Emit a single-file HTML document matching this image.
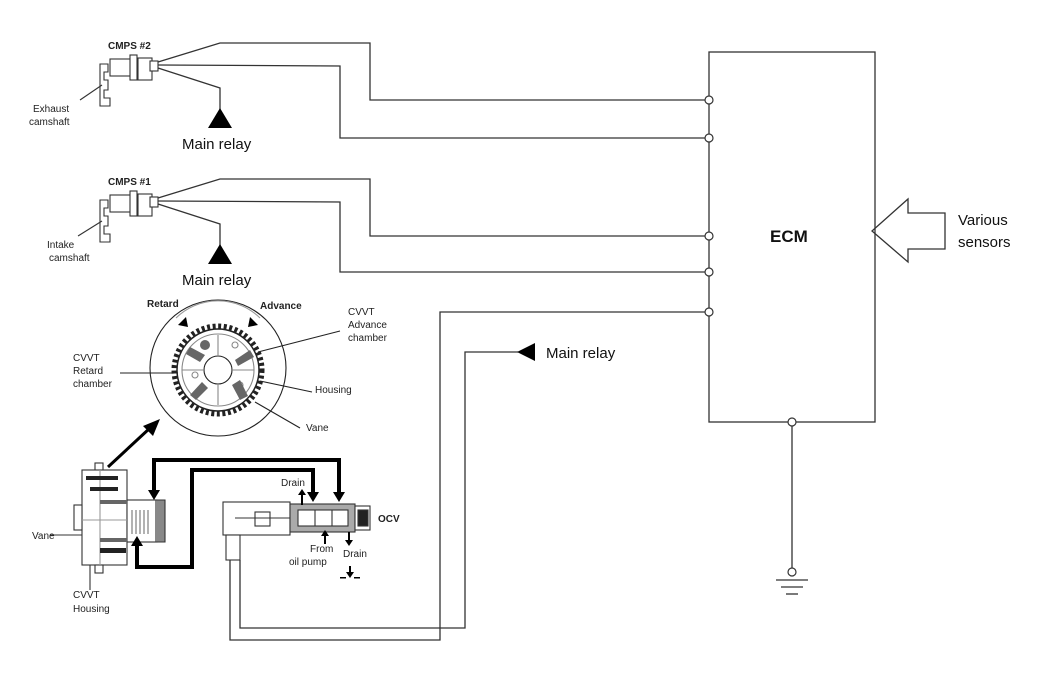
<!DOCTYPE html>
<html><head><meta charset="utf-8"><style>
html,body{margin:0;padding:0;background:#fff;}
svg{display:block;font-family:"Liberation Sans",Arial,sans-serif;}
</style></head><body>
<svg width="1050" height="685" viewBox="0 0 1050 685" xmlns="http://www.w3.org/2000/svg">
<g fill="none" stroke="#333" stroke-width="1.3">
<polyline points="158,62 220,43 370,43 370,100 705,100"/>
<polyline points="158,65 340,66 340,138 705,138"/>
<polyline points="158,68 220,88 220,112"/>
<polyline points="158,198 220,179 370,179 370,236 705,236"/>
<polyline points="158,201 340,202 340,272 705,272"/>
<polyline points="158,204 220,224 220,248"/>
<polyline points="705,312 440,312 440,640 230,640 230,560"/>
<polyline points="518,352 465,352 465,628 240,628 240,560"/>
<rect x="709" y="52" width="166" height="370"/>
<line x1="792" y1="426" x2="792" y2="568"/>
<line x1="776" y1="580" x2="808" y2="580"/>
<line x1="781" y1="587" x2="803" y2="587"/>
<line x1="786" y1="594" x2="798" y2="594"/>
<polygon points="872,231 908,199 908,213 945,213 945,249 908,249 908,262"/>
</g>
<g fill="#fff" stroke="#333" stroke-width="1.2">
<circle cx="709" cy="100" r="4"/><circle cx="709" cy="138" r="4"/>
<circle cx="709" cy="236" r="4"/><circle cx="709" cy="272" r="4"/>
<circle cx="709" cy="312" r="4"/><circle cx="792" cy="422" r="4"/>
<circle cx="792" cy="572" r="4"/>
</g>
<g fill="#000">
<polygon points="220,108 208,128 232,128"/>
<polygon points="220,244 208,264 232,264"/>
<polygon points="517,352 535,343 535,361"/>
</g>
<g fill="#fff" stroke="#333" stroke-width="1.1">
<path d="M100,64 h8 v8 h-4 v8 h4 v10 h-4 v8 h6 v8 h-10 z"/>
<rect x="110" y="59" width="25" height="17"/>
<rect x="130" y="55" width="7" height="25"/>
<rect x="138" y="58" width="14" height="22"/>
<rect x="150" y="61" width="8" height="10"/>
<path d="M100,200 h8 v8 h-4 v8 h4 v10 h-4 v8 h6 v8 h-10 z"/>
<rect x="110" y="195" width="25" height="17"/>
<rect x="130" y="191" width="7" height="25"/>
<rect x="138" y="194" width="14" height="22"/>
<rect x="150" y="197" width="8" height="10"/>
<line x1="80" y1="100" x2="102" y2="85"/>
<line x1="78" y1="236" x2="102" y2="221"/>
</g>
<g fill="none" stroke="#222" stroke-width="1.1">
<circle cx="218" cy="368" r="68"/>
<path d="M176,318 A60,60 0 0 1 260,318" stroke="#999"/>
<circle cx="218" cy="370" r="44" stroke-dasharray="3,2.6" stroke-width="5"/>
<circle cx="218" cy="370" r="41" stroke-width="1.5"/>
<circle cx="218" cy="370" r="36" stroke="#888"/>
<circle cx="218" cy="370" r="14"/>
<line x1="204" y1="370" x2="182" y2="370" stroke="#888"/>
<line x1="232" y1="370" x2="254" y2="370" stroke="#888"/>
<line x1="218" y1="384" x2="218" y2="405" stroke="#888"/>
<line x1="218" y1="356" x2="218" y2="335" stroke="#888"/>
<circle cx="195" cy="375" r="3" stroke="#888"/>
<circle cx="240" cy="385" r="3" stroke="#888"/>
<circle cx="235" cy="345" r="3" stroke="#888"/>
<line x1="120" y1="373" x2="178" y2="373"/>
<line x1="258" y1="352" x2="340" y2="331"/>
<line x1="260" y1="381" x2="312" y2="392"/>
<line x1="255" y1="402" x2="300" y2="428"/>
</g>
<g fill="#666">
<polygon points="190,347 205,355 200,362 186,354"/>
<polygon points="235,360 250,350 254,357 238,366"/>
<polygon points="190,395 202,382 208,388 196,400"/>
<polygon points="232,385 240,380 248,396 240,400"/>
<circle cx="205" cy="345" r="5"/>
</g>
<g fill="#000">
<polygon points="178,325 186,317 188,327"/>
<polygon points="258,325 250,317 248,327"/>
</g>
<line x1="108" y1="467" x2="150" y2="428" stroke="#000" stroke-width="3"/>
<polygon points="160,419 143,426 153,436" fill="#000"/>
<g fill="#fff" stroke="#333" stroke-width="1.1">
<rect x="95" y="463" width="8" height="8"/>
<rect x="82" y="470" width="45" height="95"/>
<rect x="74" y="505" width="8" height="25"/>
<rect x="95" y="565" width="8" height="8"/>
<rect x="127" y="500" width="30" height="42"/>
<path d="M155,500 h10 v42 h-10" fill="#888"/>
<line x1="90" y1="565" x2="90" y2="590"/>
<line x1="50" y1="535" x2="82" y2="535"/>
<line x1="100" y1="470" x2="100" y2="565" stroke="#999"/>
<line x1="82" y1="520" x2="127" y2="520" stroke="#999"/>
</g>
<g stroke="#666" stroke-width="1">
<line x1="132" y1="510" x2="132" y2="534"/><line x1="136" y1="510" x2="136" y2="534"/>
<line x1="140" y1="510" x2="140" y2="534"/><line x1="144" y1="510" x2="144" y2="534"/>
<line x1="148" y1="510" x2="148" y2="534"/>
</g>
<g fill="#222">
<rect x="86" y="476" width="32" height="4"/>
<rect x="90" y="487" width="28" height="4"/>
<rect x="100" y="548" width="26" height="5"/>
<rect x="100" y="500" width="27" height="4" fill="#666"/>
<rect x="100" y="538" width="27" height="4" fill="#666"/>
</g>
<g fill="#fff" stroke="#333" stroke-width="1.1">
<rect x="223" y="502" width="67" height="33"/>
<rect x="226" y="535" width="14" height="25"/>
<rect x="255" y="512" width="15" height="14"/>
<line x1="235" y1="518" x2="300" y2="518"/>
<rect x="290" y="504" width="65" height="28" fill="#aaa"/>
<rect x="298" y="510" width="50" height="16" fill="#fff"/>
<line x1="315" y1="510" x2="315" y2="526"/><line x1="332" y1="510" x2="332" y2="526"/>
<rect x="355" y="506" width="15" height="24" fill="#fff"/>
<rect x="358" y="510" width="10" height="16" fill="#222"/>
</g>
<g fill="none" stroke="#000" stroke-width="4">
<polyline points="154,492 154,460 339,460 339,494"/>
<polyline points="313,494 313,470 192,470 192,567 137,567 137,545"/>
</g>
<g fill="#000">
<polygon points="148,490 160,490 154,500"/>
<polygon points="333,492 345,492 339,502"/>
<polygon points="307,492 319,492 313,502"/>
<polygon points="131,546 143,546 137,536"/>
<line x1="302" y1="505" x2="302" y2="493" stroke="#000" stroke-width="2"/>
<polygon points="298,495 306,495 302,489"/>
<line x1="325" y1="532" x2="325" y2="544" stroke="#000" stroke-width="2"/>
<polygon points="321,536 329,536 325,530"/>
<line x1="349" y1="532" x2="349" y2="542" stroke="#000" stroke-width="2"/>
<polygon points="345,540 353,540 349,546"/>
<line x1="350" y1="566" x2="350" y2="574" stroke="#000" stroke-width="2"/>
<polygon points="346,572 354,572 350,578"/>
<rect x="340" y="577" width="6" height="1.5"/><rect x="354" y="577" width="6" height="1.5"/>
</g>
<g fill="#222" font-size="10">
<text x="108" y="49" font-weight="bold">CMPS #2</text>
<text x="108" y="185" font-weight="bold">CMPS #1</text>
<text x="33" y="112">Exhaust</text><text x="29" y="125">camshaft</text>
<text x="47" y="248">Intake</text><text x="49" y="261">camshaft</text>
<text x="147" y="307" font-weight="bold">Retard</text>
<text x="260" y="309" font-weight="bold">Advance</text>
<text x="348" y="315">CVVT</text><text x="348" y="328">Advance</text><text x="348" y="341">chamber</text>
<text x="73" y="361">CVVT</text><text x="73" y="374">Retard</text><text x="73" y="387">chamber</text>
<text x="315" y="393">Housing</text>
<text x="306" y="431">Vane</text>
<text x="32" y="539">Vane</text>
<text x="73" y="598">CVVT</text><text x="73" y="612">Housing</text>
<text x="281" y="486">Drain</text>
<text x="378" y="522" font-weight="bold">OCV</text>
<text x="310" y="552">From</text><text x="289" y="565">oil pump</text>
<text x="343" y="557">Drain</text>
</g>
<g fill="#111" font-size="15">
<text x="182" y="149">Main relay</text>
<text x="182" y="285">Main relay</text>
<text x="546" y="358">Main relay</text>
<text x="958" y="225">Various</text>
<text x="958" y="247">sensors</text>
<text x="770" y="242" font-weight="bold" font-size="17">ECM</text>
</g>
</svg>
</body></html>
